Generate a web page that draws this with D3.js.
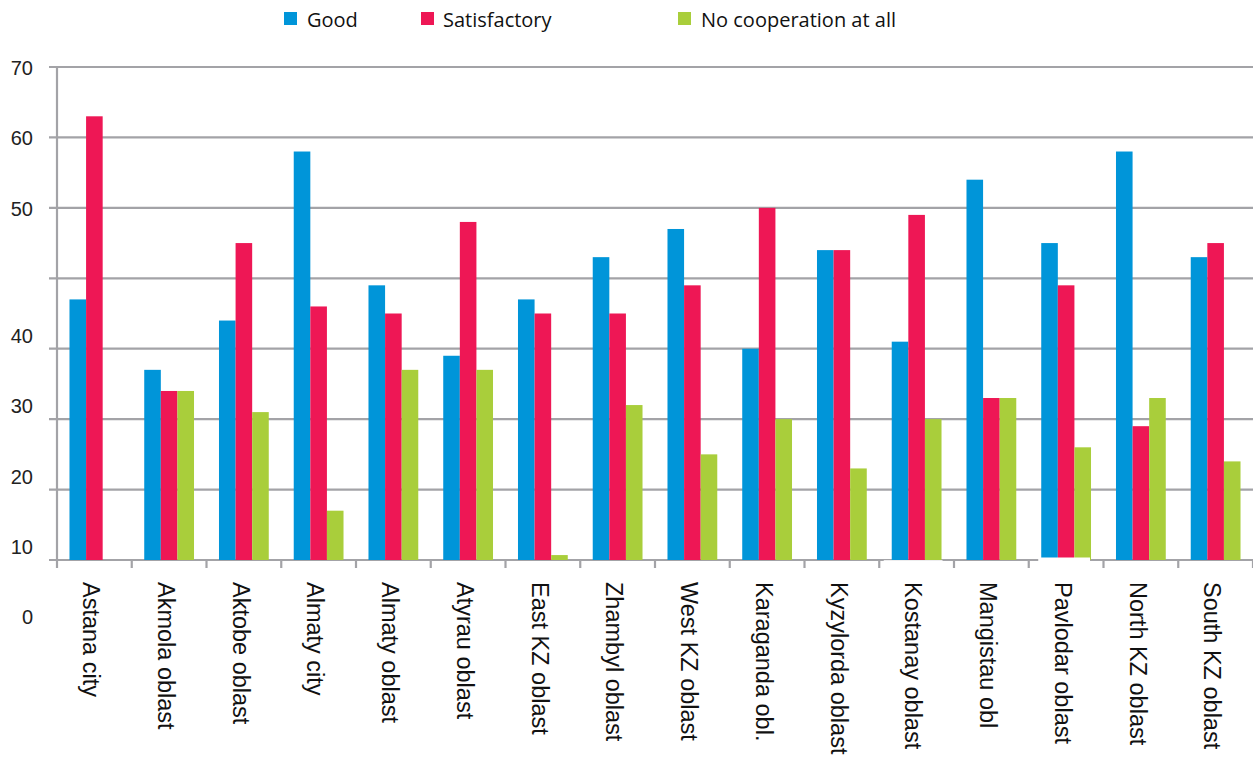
<!DOCTYPE html>
<html>
<head>
<meta charset="utf-8">
<script src="https://cdn.jsdelivr.net/npm/d3@7"></script>
<style>
  html, body { margin: 0; padding: 0; background: #fff; }
  svg { display: block; }
</style>
</head>
<body>
<svg id="chart" width="1253" height="757"></svg>
<script>
const categories = ["Astana city","Akmola oblast","Aktobe oblast","Almaty city","Almaty oblast","Atyrau oblast","East KZ oblast","Zhambyl oblast","West KZ oblast","Karaganda obl.","Kyzylorda oblast","Kostanay oblast","Mangistau obl","Pavlodar oblast","North KZ oblast","South KZ oblast"];
const seriesNames = ["Good","Satisfactory","No cooperation at all"];
const good         = [37, 27, 34, 58, 39, 29, 37, 43, 47, 30, 44, 31, 54, 45, 58, 43];
const satisfactory = [63, 24, 45, 36, 35, 48, 35, 35, 39, 50, 44, 49, 23, 39, 19, 45];
const noCoop       = [0, 24, 21, 7, 27, 27, 0.7, 22, 15, 20, 13, 20, 23, 16, 23, 14];
const gridValues   = [0, 10, 20, 30, 40, 50, 60, 70];
const yTickLabels  = ["70", "60", "50", "40", "30", "20", "10", "0"];
const colors = ["#0095d9", "#ee1755", "#a9ce3b"];

(function () {
const svg = d3.select("#chart");
const plotLeft = 57, plotRight = 1253, plotTop = 67, plotBottom = 560;

const y = d3.scaleLinear().domain([0, 70]).range([plotBottom, plotTop]);
const x0 = d3.scaleBand().domain(categories).range([plotLeft, plotRight]).paddingInner(0).paddingOuter(0);
const bw = x0.bandwidth();
const barW = bw * 0.222;
const x1 = d3.scaleBand().domain(seriesNames).range([(bw - 3 * barW) / 2, (bw + 3 * barW) / 2]);

const gridColor = "#a3a3a7";

// gridlines
svg.append("g").selectAll("line").data(gridValues).join("line")
  .attr("x1", plotLeft - 8).attr("x2", plotRight)
  .attr("y1", d => y(d)).attr("y2", d => y(d))
  .attr("stroke", gridColor).attr("stroke-width", 2.2);

// y axis line
svg.append("line").attr("x1", plotLeft).attr("x2", plotLeft)
  .attr("y1", y(70)).attr("y2", plotBottom + 8)
  .attr("stroke", gridColor).attr("stroke-width", 2.2);

// x ticks
svg.append("g").selectAll("line").data(categories).join("line")
  .attr("x1", d => x0(d) + bw).attr("x2", d => x0(d) + bw)
  .attr("y1", plotBottom).attr("y2", plotBottom + 8)
  .attr("stroke", gridColor).attr("stroke-width", 2.2);

// bars
const seriesData = [good, satisfactory, noCoop];
const groups = svg.append("g").selectAll("g").data(categories).join("g")
  .attr("transform", d => `translate(${x0(d)},0)`);
groups.selectAll("rect")
  .data((c, i) => seriesNames.map((s, k) => ({ s, k, v: seriesData[k][i] })))
  .join("rect")
  .attr("x", d => x1(d.s))
  .attr("width", x1.bandwidth())
  .attr("y", d => y(d.v))
  .attr("height", d => plotBottom - y(d.v))
  .attr("fill", d => colors[d.k]);

// white artifacts over the baseline (as in the reference image)
const maskCats = ["Kostanay oblast", "Pavlodar oblast"];
svg.append("g").selectAll("rect").data(maskCats).join("rect")
  .attr("x", d => x0(d) + (d === "Pavlodar oblast" ? x1("Good") - 3 : x1("Good") - 8))
  .attr("width", d => d === "Pavlodar oblast" ? 3 * barW + 2 : 3 * barW + 9)
  .attr("y", d => d === "Pavlodar oblast" ? plotBottom - 2.5 : plotBottom + 0.2)
  .attr("height", d => d === "Pavlodar oblast" ? 7 : 2.5)
  .attr("fill", "#fff");

// y labels (positioned as in the reference)
svg.append("g").selectAll("text").data(yTickLabels).join("text")
  .attr("x", 33)
  .attr("y", d => { const v = +d; return v >= 50 ? y(v) + 1 : y(v - 10) - 13; })
  .attr("dy", "0.35em")
  .attr("text-anchor", "end")
  .attr("font-family", "Liberation Sans, Arial, sans-serif")
  .attr("font-size", 20)
  .attr("fill", "#222")
  .text(d => d);

// x labels
svg.append("g").selectAll("text").data(categories).join("text")
  .attr("transform", d => `translate(${x0(d) + bw / 2 - 3},582) rotate(90)`)
  .attr("dy", "0.35em")
  .attr("text-anchor", "start")
  .attr("font-family", "Liberation Sans, Arial, sans-serif")
  .attr("font-size", 23.5)
  .attr("fill", "#111")
  .text(d => d);

// legend
const legendX = [284, 421, 678];
const leg = svg.append("g").selectAll("g").data(seriesNames).join("g")
  .attr("transform", (d, i) => `translate(${legendX[i]},0)`);
leg.append("rect").attr("x", 0).attr("y", 12).attr("width", 13).attr("height", 13)
  .attr("fill", (d, i) => colors[i]);
leg.append("text").attr("x", (d, i) => i === 1 ? 22 : 23).attr("y", 26.5)
  .attr("font-family", "Open Sans, sans-serif")
  .attr("font-size", 20)
  .attr("fill", "#111")
  .text(d => d);
})();
</script>
</body>
</html>
